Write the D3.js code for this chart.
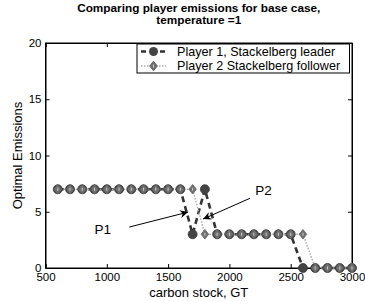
<!DOCTYPE html>
<html><head><meta charset="utf-8">
<script src="https://cdn.jsdelivr.net/npm/d3@7/dist/d3.min.js"></script>
<style>body{margin:0;background:#fff}svg{display:block}text{font-family:"Liberation Sans",Arial,sans-serif}</style>
</head><body><svg id="c" width="365" height="301"></svg>
<script>
const carbonStock = [600,700,800,900,1000,1100,1200,1300,1400,1500,1600,1700,1800,1900,2000,2100,2200,2300,2400,2500,2600,2700,2800,2900,3000];
const player1 = [7,7,7,7,7,7,7,7,7,7,7,3,7,3,3,3,3,3,3,3,0,0,0,0,0];
const player2 = [7,7,7,7,7,7,7,7,7,7,7,7,3,3,3,3,3,3,3,3,3,0,0,0,0];
const xTicks = [500,1000,1500,2000,2500,3000];
const yTicks = [0,5,10,15,20];
const seriesNames = ["Player 1, Stackelberg leader","Player 2 Stackelberg follower"];
const titleLines = ["Comparing player emissions for base case,","temperature =1"];
const annotations = [{label:"P1", tx:900, ty:3.4, x0:1183, y0:3.64, x1:1663, y1:4.97},
                     {label:"P2", tx:2210, ty:6.9, x0:2168, y0:6.2, x1:1785, y1:4.35}];

const svg = d3.select("#c");
const L=45.5, R=352, T=43, B=268;
const x = d3.scaleLinear().domain([500,3000]).range([L,R]);
const y = d3.scaleLinear().domain([0,20]).range([B,T]);

svg.append("rect").attr("x",L).attr("y",T).attr("width",R-L).attr("height",B-T)
  .attr("fill","none").attr("stroke","#000").attr("stroke-width",1);

const gx = svg.append("g").attr("transform",`translate(0,${B})`)
  .call(d3.axisBottom(x).tickValues(xTicks).tickSize(-4).tickPadding(5).tickFormat(d3.format("d")));
const gxt = svg.append("g").attr("transform",`translate(0,${T})`)
  .call(d3.axisTop(x).tickValues(xTicks).tickSize(-4).tickFormat(""));
const gy = svg.append("g").attr("transform",`translate(${L},0)`)
  .call(d3.axisLeft(y).tickValues(yTicks).tickSize(-4).tickPadding(4));
const gyr = svg.append("g").attr("transform",`translate(${R},0)`)
  .call(d3.axisRight(y).tickValues(yTicks).tickSize(-4).tickFormat(""));
[gx,gxt,gy,gyr].forEach(g=>{
  g.select(".domain").attr("stroke","#000");
  g.selectAll(".tick line").attr("stroke","#000");
  g.selectAll("text").attr("font-size",11.5).attr("fill","#000").attr("font-family","Liberation Sans, Arial, sans-serif");
});
gy.selectAll(".tick text").attr("dy","0.32em");

const line1 = d3.line().x((d,i)=>x(carbonStock[i])).y(d=>y(d));
svg.append("path").datum(player1).attr("d",line1).attr("fill","none")
  .attr("stroke","#333").attr("stroke-width",2.6).attr("stroke-dasharray","6,4");
svg.append("path").datum(player2).attr("d",line1).attr("fill","none")
  .attr("stroke","#aaa").attr("stroke-width",1.4).attr("stroke-dasharray","1.5,1.5");

svg.append("g").selectAll("circle").data(player1).join("circle")
  .attr("cx",(d,i)=>x(carbonStock[i])).attr("cy",d=>y(d)).attr("r",4.5)
  .attr("fill","#444").attr("stroke","#3a3a3a").attr("stroke-width",0.8);
const diamond = (cx,cy)=>`M${cx},${cy-4.8}L${cx+3.8},${cy}L${cx},${cy+4.8}L${cx-3.8},${cy}Z`;
const dg = svg.append("g");
dg.selectAll("path").data(player2).join("path")
  .attr("d",(d,i)=>diamond(x(carbonStock[i]),y(d)))
  .attr("fill","#707070").attr("stroke","#666").attr("stroke-width",0.8);
dg.selectAll("line").data(player2).join("line")
  .attr("x1",(d,i)=>x(carbonStock[i])).attr("x2",(d,i)=>x(carbonStock[i]))
  .attr("y1",d=>y(d)-1.5).attr("y2",d=>y(d)+1.5).attr("stroke","#ccc").attr("stroke-width",1);

svg.append("defs").append("marker").attr("id","ah").attr("viewBox","0 0 10 10")
  .attr("refX",10).attr("refY",5).attr("markerWidth",10).attr("markerHeight",8).attr("orient","auto")
  .attr("markerUnits","userSpaceOnUse")
  .append("path").attr("d","M0,0L10,5L0,10L3,5Z").attr("fill","#000");
annotations.forEach(a=>{
  svg.append("line").attr("x1",x(a.x0)).attr("y1",y(a.y0)).attr("x2",x(a.x1)).attr("y2",y(a.y1))
    .attr("stroke","#000").attr("stroke-width",1).attr("marker-end","url(#ah)");
  svg.append("text").attr("x",x(a.tx)).attr("y",y(a.ty)).attr("dy","0.35em")
    .attr("font-size",13.5).attr("fill","#000").attr("text-anchor","start").text(a.label);
});

const lg = svg.append("g");
lg.append("rect").attr("x",137).attr("y",44).attr("width",212.5).attr("height",29)
  .attr("fill","#fff").attr("stroke","#000").attr("stroke-width",1);
[0,1].forEach(i=>{
  const yy = 51.5 + i*14.5;
  if(i===0){
    lg.append("line").attr("x1",141).attr("x2",166).attr("y1",yy).attr("y2",yy)
      .attr("stroke","#333").attr("stroke-width",2.6).attr("stroke-dasharray","5,4.5");
    lg.append("circle").attr("cx",153.5).attr("cy",yy).attr("r",4.5).attr("fill","#444");
  } else {
    lg.append("line").attr("x1",141).attr("x2",166).attr("y1",yy).attr("y2",yy)
      .attr("stroke","#aaa").attr("stroke-width",1.4).attr("stroke-dasharray","1.5,1.5");
    lg.append("path").attr("d",diamond(153.5,yy)).attr("fill","#707070").attr("stroke","#666");
    lg.append("line").attr("x1",153.5).attr("x2",153.5).attr("y1",yy-1.5).attr("y2",yy+1.5).attr("stroke","#ccc");
  }
  lg.append("text").attr("x",177).attr("y",yy).attr("dy","0.35em").attr("font-size",12.6)
    .attr("fill","#000").text(seriesNames[i]);
});

titleLines.forEach((t,i)=>{
  svg.append("text").attr("x",(L+R)/2).attr("y",11.5+i*12.5).attr("text-anchor","middle")
    .attr("font-size",11.8).attr("font-weight","bold").attr("fill","#000").text(t);
});
svg.append("text").attr("x",(L+R)/2).attr("y",297).attr("text-anchor","middle")
  .attr("font-size",13).attr("fill","#000").text("carbon stock, GT");
svg.append("text").attr("transform",`translate(22,${(T+B)/2}) rotate(-90)`).attr("text-anchor","middle")
  .attr("font-size",13).attr("fill","#000").text("Optimal Emissions");
</script></body></html>
